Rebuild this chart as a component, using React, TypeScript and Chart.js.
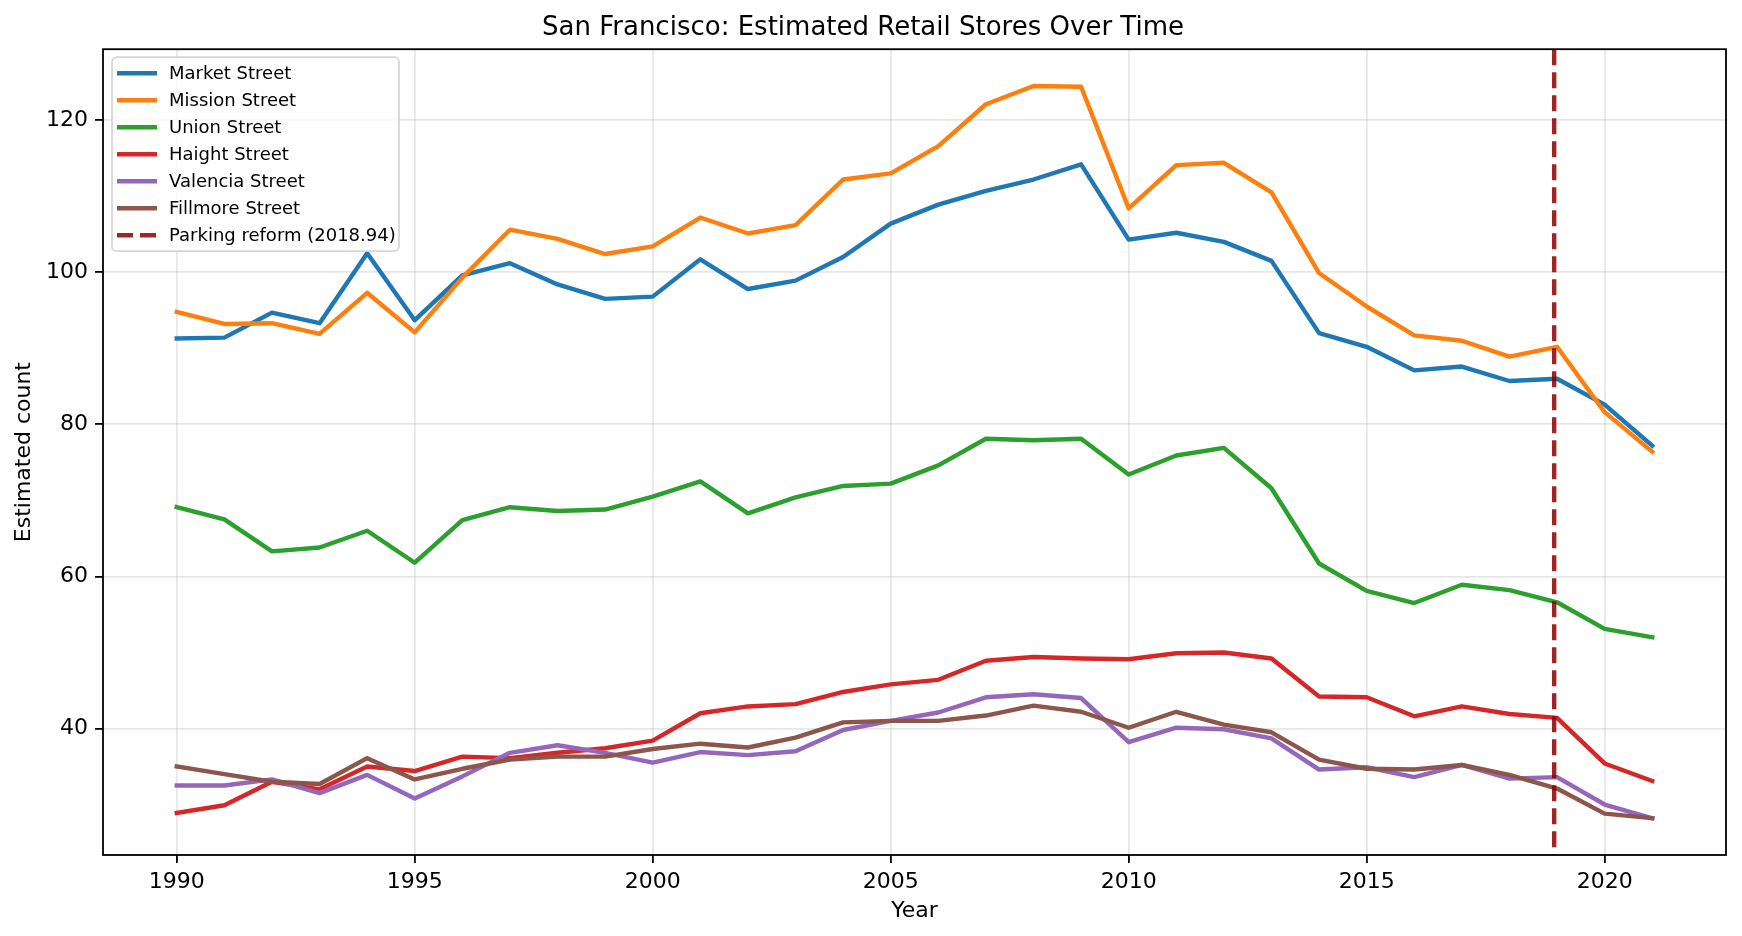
import { useEffect, useRef } from "react";
import { Chart, registerables } from "chart.js";

Chart.register(...registerables);

const years = [
  1990, 1991, 1992, 1993, 1994, 1995, 1996, 1997, 1998, 1999, 2000, 2001, 2002, 2003, 2004, 2005,
  2006, 2007, 2008, 2009, 2010, 2011, 2012, 2013, 2014, 2015, 2016, 2017, 2018, 2019, 2020, 2021,
];

const marketStreet = [
  91.3, 91.4, 94.7, 93.3, 102.5, 93.7, 99.6, 101.2, 98.4, 96.5, 96.8, 101.7, 97.8, 98.9, 102.0, 106.4,
  108.9, 110.7, 112.2, 114.2, 104.3, 105.2, 104.0, 101.5, 92.0, 90.2, 87.1, 87.6, 85.7, 86.0, 82.6, 77.2,
];
const missionStreet = [
  94.8, 93.2, 93.3, 91.9, 97.3, 92.1, 99.3, 105.6, 104.4, 102.4, 103.4, 107.2, 105.1, 106.2, 112.2, 113.0,
  116.6, 122.1, 124.5, 124.4, 108.4, 114.1, 114.4, 110.5, 99.9, 95.5, 91.7, 91.0, 88.9, 90.2, 81.6, 76.4,
];
const unionStreet = [
  69.1, 67.5, 63.3, 63.8, 66.0, 61.8, 67.4, 69.1, 68.6, 68.8, 70.5, 72.5, 68.3, 70.4, 71.9, 72.2,
  74.6, 78.1, 77.9, 78.1, 73.4, 75.9, 76.9, 71.6, 61.7, 58.1, 56.5, 58.9, 58.2, 56.6, 53.1, 52.0,
];
const haightStreet = [
  28.9, 29.9, 33.0, 32.0, 35.0, 34.4, 36.3, 36.1, 36.8, 37.4, 38.4, 42.0, 42.9, 43.2, 44.8, 45.8,
  46.4, 48.9, 49.4, 49.2, 49.1, 49.9, 50.0, 49.2, 44.2, 44.1, 41.6, 42.9, 41.9, 41.4, 35.4, 33.1,
];
const valenciaStreet = [
  32.5, 32.5, 33.3, 31.5, 33.9, 30.8, 33.7, 36.8, 37.8, 36.8, 35.5, 36.9, 36.5, 37.0, 39.8, 41.0,
  42.1, 44.1, 44.5, 44.0, 38.2, 40.1, 39.9, 38.7, 34.6, 34.9, 33.6, 35.2, 33.4, 33.6, 30.0, 28.2,
];
const fillmoreStreet = [
  35.0, 34.0, 33.0, 32.7, 36.1, 33.3, 34.7, 35.9, 36.3, 36.3, 37.3, 38.0, 37.5, 38.8, 40.8, 41.0,
  41.0, 41.7, 43.0, 42.2, 40.1, 42.2, 40.5, 39.5, 35.9, 34.7, 34.6, 35.2, 33.9, 32.1, 28.8, 28.2,
];

const seriesNames = [
  "Market Street",
  "Mission Street",
  "Union Street",
  "Haight Street",
  "Valencia Street",
  "Fillmore Street",
];
const seriesValues = [marketStreet, missionStreet, unionStreet, haightStreet, valenciaStreet, fillmoreStreet];
const seriesColors = ["#1f77b4", "#ff7f0e", "#2ca02c", "#d62728", "#9467bd", "#8c564b"];

const reformYear = 2018.94;
const reformLabel = "Parking reform (2018.94)";

const xTicks = [1990, 1995, 2000, 2005, 2010, 2015, 2020];
const yTicks = [40, 60, 80, 100, 120];

const X_MIN = 1988.45;
const X_MAX = 2022.55;
const Y_MIN = 23.36;
const Y_MAX = 129.34;

const FONT = "'DejaVu Sans', sans-serif";
const LINE_W = 4.4;

// matplotlib-style spines on all four sides
const spinesPlugin = {
  id: "spines",
  afterDatasetsDraw(chart: any) {
    const { ctx, chartArea } = chart;
    ctx.save();
    ctx.strokeStyle = "#000";
    ctx.lineWidth = 1.8;
    ctx.strokeRect(chartArea.left, chartArea.top, chartArea.right - chartArea.left, chartArea.bottom - chartArea.top);
    ctx.restore();
  },
};

// legend drawn inside the axes, upper left, framed
const insideLegend = {
  id: "insideLegend",
  afterDraw(chart: any) {
    const { ctx, chartArea } = chart;
    const { left, top } = chartArea;
    ctx.save();
    ctx.beginPath();
    ctx.roundRect(left + 9, top + 8, 287, 194, 5);
    ctx.fillStyle = "rgba(255,255,255,0.8)";
    ctx.fill();
    ctx.strokeStyle = "rgba(204,204,204,0.8)";
    ctx.lineWidth = 1.8;
    ctx.stroke();

    ctx.font = `18px ${FONT}`;
    ctx.textBaseline = "middle";
    ctx.textAlign = "left";
    chart.data.datasets.forEach((ds: any, i: number) => {
      const cy = top + 24 + i * 27;
      ctx.beginPath();
      ctx.strokeStyle = ds.borderColor;
      ctx.lineWidth = LINE_W;
      ctx.setLineDash(ds.borderDash || []);
      ctx.moveTo(left + 14, cy);
      ctx.lineTo(left + 54, cy);
      ctx.stroke();
      ctx.setLineDash([]);
      ctx.fillStyle = "#000";
      ctx.fillText(ds.label, left + 66, cy + 1);
    });
    ctx.restore();
  },
};

export default function App() {
  const canvasRef = useRef<HTMLCanvasElement | null>(null);

  useEffect(() => {
    document.body.style.margin = "0";
    if (!canvasRef.current) return;

    const n = seriesNames.length;
    const lineSets = seriesNames.map((name, i) => ({
      label: name,
      data: years.map((yr, j) => ({ x: yr, y: seriesValues[i][j] })),
      borderColor: seriesColors[i],
      backgroundColor: seriesColors[i],
      borderWidth: LINE_W,
      pointRadius: 0,
      tension: 0,
      fill: false,
      borderJoinStyle: "round" as const,
      borderCapStyle: "square" as const,
      order: n + 1 - i,
    }));

    const reformSet = {
      label: reformLabel,
      data: [
        { x: reformYear, y: Y_MAX },
        { x: reformYear, y: Y_MIN },
      ],
      borderColor: "rgba(139,0,0,0.85)",
      backgroundColor: "rgba(139,0,0,0.85)",
      borderWidth: LINE_W,
      borderDash: [16, 7],
      pointRadius: 0,
      fill: false,
      order: 0,
    };

    const chart = new Chart(canvasRef.current, {
      type: "line",
      data: { datasets: [...lineSets, reformSet] },
      options: {
        animation: false,
        responsive: false,
        devicePixelRatio: 1,
        layout: { padding: { left: 0, right: 16, top: 0, bottom: 0 } },
        plugins: {
          legend: { display: false },
          tooltip: { enabled: false },
          title: {
            display: true,
            text: "San Francisco: Estimated Retail Stores Over Time",
            color: "#000",
            font: { family: FONT, size: 26, weight: "normal" },
            padding: { top: 13, bottom: 5 },
          },
        },
        scales: {
          x: {
            type: "linear",
            min: X_MIN,
            max: X_MAX,
            afterBuildTicks: (scale: any) => {
              scale.ticks = xTicks.map((v) => ({ value: v }));
            },
            afterFit: (scale: any) => {
              scale.height = 81;
            },
            ticks: {
              color: "#000",
              font: { family: FONT, size: 22 },
              padding: 6,
              maxRotation: 0,
              autoSkip: false,
              callback: (v: any) => String(v),
            },
            grid: {
              color: "rgba(176,176,176,0.3)",
              lineWidth: 1.8,
              tickColor: "#000",
              tickLength: 8,
              tickWidth: 1.8,
            },
            border: { display: false },
            title: {
              display: true,
              text: "Year",
              color: "#000",
              font: { family: FONT, size: 22 },
              padding: { top: 0, bottom: 12 },
            },
          },
          y: {
            type: "linear",
            min: Y_MIN,
            max: Y_MAX,
            afterBuildTicks: (scale: any) => {
              scale.ticks = yTicks.map((v) => ({ value: v }));
            },
            afterFit: (scale: any) => {
              scale.width = 103;
            },
            ticks: {
              color: "#000",
              font: { family: FONT, size: 22 },
              padding: 7,
              autoSkip: false,
              callback: (v: any) => String(v),
            },
            grid: {
              color: "rgba(176,176,176,0.3)",
              lineWidth: 1.8,
              tickColor: "#000",
              tickLength: 8,
              tickWidth: 1.8,
            },
            border: { display: false },
            title: {
              display: true,
              text: "Estimated count",
              color: "#000",
              font: { family: FONT, size: 22 },
              padding: { top: 11, bottom: 0 },
            },
          },
        },
      },
      plugins: [spinesPlugin, insideLegend],
    });

    return () => {
      chart.destroy();
    };
  }, []);

  return (
    <div style={{ width: 1742, height: 936 }}>
      <canvas ref={canvasRef} width={1742} height={936} />
    </div>
  );
}
